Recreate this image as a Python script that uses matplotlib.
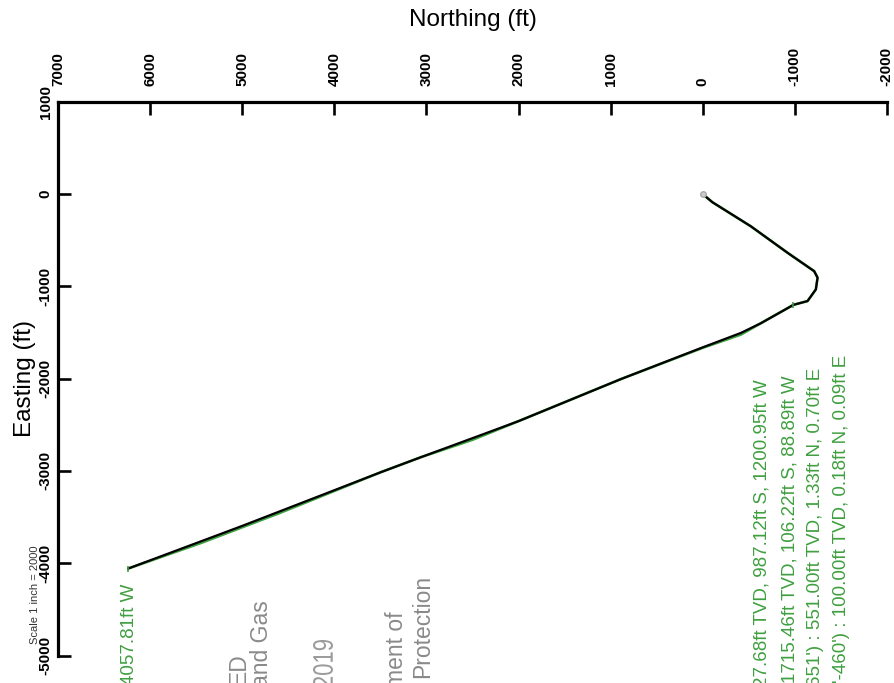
import numpy as np
import matplotlib
matplotlib.use('Agg')
import matplotlib.pyplot as plt
from matplotlib.textpath import TextPath
from matplotlib.patches import PathPatch
from matplotlib.transforms import Affine2D
from matplotlib.font_manager import FontProperties

plt.rcParams['font.family'] = ['Liberation Sans', 'DejaVu Sans']
plt.rcParams['axes.unicode_minus'] = False

# well path, actual survey (ft)
north_act = [0, 0.18, 1.33, -106.22, -524, -923, -1212, -1249, -1230, -1140, -987.12,
             -633, -416, 0, 887, 2000, 3059, 3493, 5000, 6240]
east_act = [0, 0.09, 0.70, -88.89, -350, -637, -836, -907, -1034, -1160, -1200.95,
            -1400, -1505, -1662, -2005, -2461, -2851, -3013, -3595, -4057.81]

# planned path (green), mostly hidden under the actual one
north_plan = [0, -106.22, -524, -923, -1212, -1249, -1230, -1140, -987.12, -633, -416,
              0, 887, 2000, 2500, 3059, 3493, 4600, 5450, 6240]
east_plan = [0, -88.89, -350, -637, -836, -907, -1034, -1160, -1200.95, -1400, -1523,
             -1667, -2005, -2461, -2663, -2851, -3013, -3458, -3781, -4057.81]

x_ticks = [7000, 6000, 5000, 4000, 3000, 2000, 1000, 0, -1000, -2000]
y_ticks = [1000, 0, -1000, -2000, -3000, -4000, -5000]

point_labels = [
    "27.68ft TVD, 987.12ft S, 1200.95ft W",
    "1715.46ft TVD, 106.22ft S, 88.89ft W",
    "651') : 551.00ft TVD, 1.33ft N, 0.70ft E",
    "'-460') : 100.00ft TVD, 0.18ft N, 0.09ft E",
]
end_label = "4057.81ft W"
stamp_lines = ["ED", "and Gas", "ment of", "Protection"]
stamp_date = "2019"

W, H = 894, 683
fig = plt.figure(figsize=(W / 100, H / 100), dpi=100)
ax = fig.add_axes([58.3 / W, 1 - 655.5 / H, (886.7 - 58.3) / W, (655.5 - 101.7) / H])

green = '#3f9f3f'
ax.plot(north_plan, east_plan, color=green, lw=1.9, zorder=2, solid_capstyle='round')
ax.plot(north_act, east_act, color='black', lw=1.6, zorder=3)
ax.plot(north_act[0], east_act[0], 'o', ms=4, mfc='#cccccc', mec='#aaaaaa', zorder=4)
ax.plot([north_act[10], north_act[-1]], [east_act[10], east_act[-1]], '|',
        color=green, ms=5, mew=1.2, zorder=4)

ax.set_xlim(7000, -2000)
ax.set_ylim(-5000, 1000)
ax.set_xticks(x_ticks)
ax.set_yticks(y_ticks)
ax.xaxis.tick_top()
ax.xaxis.set_label_position('top')
for s in ['right', 'bottom']:
    ax.spines[s].set_visible(False)
for s in ['top', 'left']:
    ax.spines[s].set_linewidth(2.3)
ax.tick_params(axis='x', direction='in', length=9.5, width=1.9, pad=11,
               labelrotation=90, labelsize=11)
ax.tick_params(axis='y', direction='in', length=9.5, width=1.9, pad=4,
               labelrotation=90, labelsize=11)
for lab in ax.get_xticklabels() + ax.get_yticklabels():
    lab.set_fontweight('bold')
for lab in ax.get_yticklabels():
    lab.set_va('center')

ax.set_xlabel('Northing (ft)', fontsize=17.5, labelpad=15)
ax.set_ylabel('Easting (ft)', fontsize=17.5, labelpad=2)

# rotated annotation text; va='top' anchors the end, va='bottom' the start
def ptext(x, y, s, va='top', **kw):
    fig.text(x / W, 1 - y / H, s, rotation=90, ha='center', va=va, **kw)

# the well labels run off the bottom edge of the scan
for xc, yb, s in zip([761.7, 790, 815.5, 841], [687, 683, 686, 683], point_labels):
    ptext(xc, yb, s, va='bottom', color=green, fontsize=13.5)
ptext(129, 685, end_label, va='bottom', color=green, fontsize=13.5)

gray = '#8a8a8a'
for xc, yt, s in zip([238.5, 261.5, 396.5, 423], [653, 600, 611, 575], stamp_lines):
    ptext(xc, yt, s, color=gray, fontsize=16.5)
ptext(35, 545, 'Scale 1 inch = 2000', color='#333333', fontsize=8)

# stamp date: tall narrow digits, built as a path scaled in pixels
tp = TextPath((0, 0), stamp_date, size=1, prop=FontProperties(family='Liberation Sans', weight='light'))
ext = tp.get_extents()
sx = 47 / ext.width
sy = 20 / ext.height
tr = (Affine2D().translate(-ext.x0, -ext.y0).scale(sx, sy).rotate_deg(90)
      .translate(323 + 10, (H - 640) - 47))
fig.patches.append(PathPatch(tr.transform_path(tp), facecolor='#9a9a9a', edgecolor='none',
                             transform=None, figure=fig))

fig.savefig('out.png', dpi=100)
